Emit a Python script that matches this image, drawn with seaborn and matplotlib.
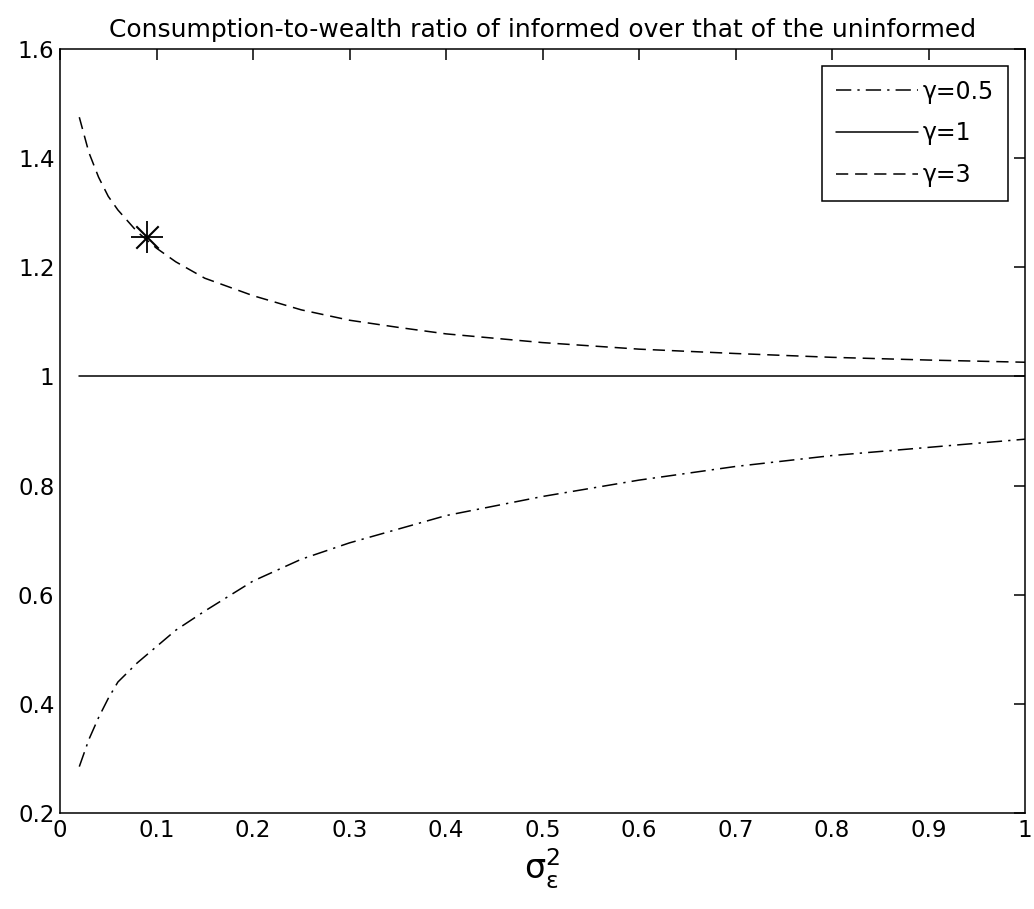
import numpy as np
import pandas as pd
import matplotlib
matplotlib.use("Agg")
import matplotlib.pyplot as plt
import seaborn as sns

# signal noise variance grid
sigma2 = [0.02, 0.03, 0.04, 0.05, 0.06, 0.08, 0.10, 0.12, 0.15, 0.20,
          0.25, 0.30, 0.35, 0.40, 0.50, 0.60, 0.70, 0.80, 0.90, 1.00]

# consumption-to-wealth ratio, informed / uninformed
ratio_g05 = [0.285, 0.335, 0.375, 0.410, 0.440, 0.475, 0.505, 0.535, 0.570, 0.625,
             0.665, 0.695, 0.720, 0.745, 0.780, 0.810, 0.835, 0.855, 0.870, 0.885]
ratio_g1 = [1.0] * len(sigma2)
ratio_g3 = [1.475, 1.410, 1.365, 1.330, 1.305, 1.265, 1.235, 1.210, 1.180, 1.148,
            1.122, 1.103, 1.090, 1.078, 1.062, 1.050, 1.042, 1.035, 1.030, 1.026]

# highlighted point on the gamma=3 curve
star_x = [0.09]
star_y = [1.255]

labels = ["\u03b3=0.5", "\u03b3=1", "\u03b3=3"]
title = "Consumption-to-wealth ratio of informed over that of the uninformed"
xticks = [0, 0.1, 0.2, 0.3, 0.4, 0.5, 0.6, 0.7, 0.8, 0.9, 1]
xticklabels = ["0", "0.1", "0.2", "0.3", "0.4", "0.5", "0.6", "0.7", "0.8", "0.9", "1"]
yticks = [0.2, 0.4, 0.6, 0.8, 1.0, 1.2, 1.4, 1.6]
yticklabels = ["0.2", "0.4", "0.6", "0.8", "1", "1.2", "1.4", "1.6"]

sns.set_style("white")
plt.rcParams["font.family"] = ["DejaVu Sans"]
plt.rcParams["text.color"] = "black"

DASHDOT = [10, 4, 1.5, 4]
DASHED = [8, 4.5]

fig = plt.figure(figsize=(10.34, 9.09), dpi=100)
ax = fig.add_axes([60 / 1034, 1 - 813 / 909, (1025 - 60) / 1034, (813 - 49) / 909])

df = pd.DataFrame({"x": sigma2, "g05": ratio_g05, "g1": ratio_g1, "g3": ratio_g3})

lw = 1.1
sns.lineplot(data=df, x="x", y="g05", ax=ax, color="black", lw=lw, label=labels[0])
ax.lines[-1].set_dashes(DASHDOT)
sns.lineplot(data=df, x="x", y="g1", ax=ax, color="black", lw=lw, label=labels[1])
sns.lineplot(data=df, x="x", y="g3", ax=ax, color="black", lw=lw, label=labels[2])
ax.lines[-1].set_dashes(DASHED)

# asterisk marker: plus overlaid with a smaller cross
sns.scatterplot(x=star_x, y=star_y, ax=ax, marker="+", s=560, color="black",
                linewidth=1.3, zorder=5)
sns.scatterplot(x=star_x, y=star_y, ax=ax, marker="x", s=260, color="black",
                linewidth=1.5, zorder=5)

ax.set_xlim(0, 1)
ax.set_ylim(0.2, 1.6)
ax.set_xticks(xticks)
ax.set_xticklabels(xticklabels)
ax.set_yticks(yticks)
ax.set_yticklabels(yticklabels)
ax.tick_params(direction="in", length=8, width=1.1, top=True, right=True,
               labelsize=16.5, colors="black", pad=4)
for s in ax.spines.values():
    s.set_visible(True)
    s.set_color("black")
    s.set_linewidth(1.1)

ax.set_xlabel(r"$\mathrm{\sigma}_{\mathrm{\varepsilon}}^{2}$", fontsize=24,
              labelpad=4, color="black")
ax.set_ylabel("")
ax.set_title(title, fontsize=18, pad=9, color="black")

leg = ax.legend(loc="upper right", fontsize=17, frameon=True, fancybox=False,
                edgecolor="black", handlelength=3.5, handletextpad=0.2,
                borderpad=0.6, labelspacing=0.75, borderaxespad=0.7)
leg.get_frame().set_linewidth(1.1)
leg.get_frame().set_alpha(1)
handles = leg.legend_handles if hasattr(leg, "legend_handles") else leg.legendHandles
handles[0].set_dashes(DASHDOT)
handles[2].set_dashes(DASHED)

fig.savefig("out.png", dpi=100, facecolor="white")
